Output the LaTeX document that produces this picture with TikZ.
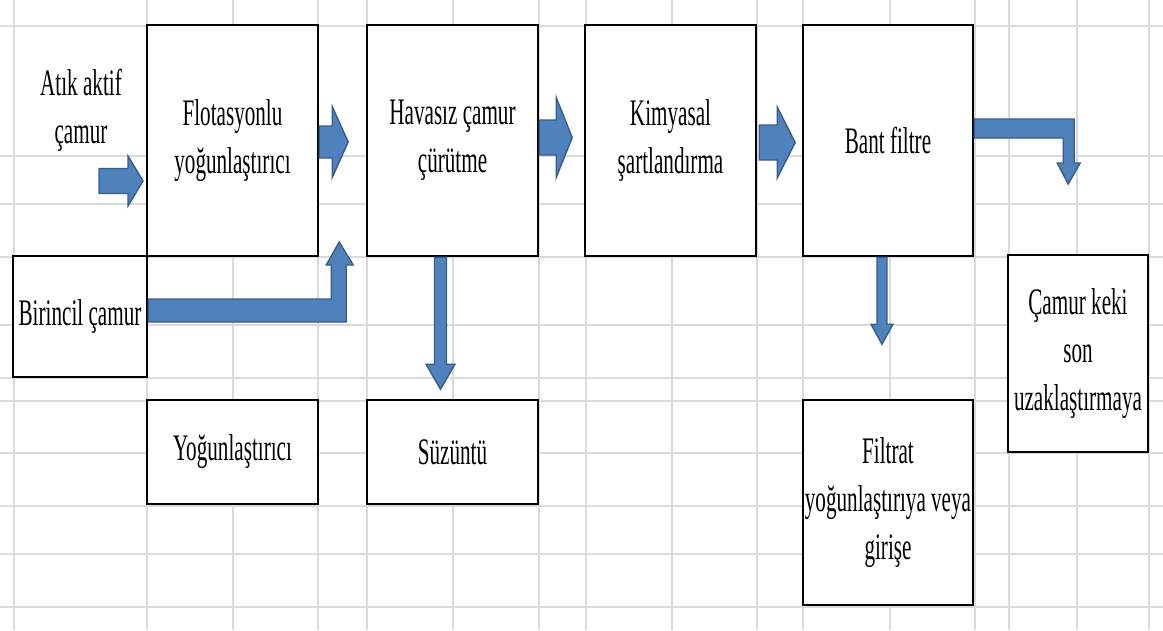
\documentclass[tikz,border=0pt]{standalone}
\usepackage{fontspec}
\setmainfont{Liberation Serif}[FakeStretch=0.565]
\usetikzlibrary{calc}

\definecolor{gridgray}{RGB}{218,218,218}
\definecolor{arrowblue}{RGB}{79,129,189}
\definecolor{arrowedge}{RGB}{56,93,138}

% block arrow pointing right: start, length, shaft width, head width, head length
\newcommand{\rblock}[5]{%
  \draw[blockarrow] (#1) ++(0,{-#3/2}) -- ++({#2-#5},0) -- ++(0,{-(#4-#3)/2})
    -- ++(#5,{#4/2}) -- ++({-#5},{#4/2}) -- ++(0,{-(#4-#3)/2})
    -- ++({-(#2-#5)},0) -- cycle;}
% block arrow pointing down: start, length, shaft width, head width, head length
\newcommand{\dblock}[5]{%
  \draw[blockarrow] (#1) ++({-#3/2},0) -- ++(0,{#2-#5}) -- ++({-(#4-#3)/2},0)
    -- ++({#4/2},#5) -- ++({#4/2},{-#5}) -- ++({-(#4-#3)/2},0)
    -- ++(0,{-(#2-#5)}) -- cycle;}

\begin{document}
\begin{tikzpicture}[
    x=0.02cm, y=-0.02cm,
    box/.style={rectangle, draw=black, line width=1.4pt, fill=white, align=center, inner sep=0pt, font=\fontsize{21.3}{27.2}\selectfont},
    freetext/.style={align=center, inner sep=0pt, font=\fontsize{21.3}{27.2}\selectfont},
    blockarrow/.style={fill=arrowblue, draw=arrowedge, line width=0.8pt, line join=miter},
    gridline/.style={gridgray, line width=0.9pt},
]

\useasboundingbox (0,0) rectangle (1163,630);

% Spreadsheet grid
\foreach \gx in {14,147,233,318,367,453,539,586,672,757,803,890,975,1009,1077,1149}
    \draw[gridline] (\gx,0) -- (\gx,630);
\foreach \gy in {26,156,204,257,325,378,401,453,506,554,607}
    \draw[gridline] (0,\gy) -- (1163,\gy);

% Main process boxes
\node[box, minimum width=3.42cm, minimum height=4.62cm] (flot) at (232.5,140.5) {Flotasyonlu\\yoğunlaştırıcı};
\node[box, minimum width=3.42cm, minimum height=4.62cm] (havasiz) at (452.5,140.5) {Havasız çamur\\çürütme};
\node[box, minimum width=3.42cm, minimum height=4.62cm] (kimyasal) at (670.5,140.5) {Kimyasal\\şartlandırma};
\node[box, minimum width=3.40cm, minimum height=4.62cm] (bant) at (888,140.5) {Bant filtre};

% Inputs
\node[freetext] (atik) at (81,110) {Atık aktif\\çamur};
\node[box, minimum width=2.68cm, minimum height=2.42cm] (birincil) at (80,316.5) {Birincil çamur};

% Lower boxes
\node[box, minimum width=3.42cm, minimum height=2.08cm] (yogun) at (232.5,452) {Yoğunlaştırıcı};
\node[box, minimum width=3.42cm, minimum height=2.08cm] (suzuntu) at (452.5,452) {Süzüntü};
\node[box, minimum width=3.40cm, minimum height=4.10cm] (filtrat) at (888,502.5) {Filtrat\\yoğunlaştırıya veya\\girişe};
\node[box, minimum width=2.80cm, minimum height=3.94cm] (kek) at (1078,353.5) {Çamur keki\\son\\uzaklaştırmaya};

% Straight block arrows
\coordinate (a1) at (99,181);
\coordinate (a2) at ($(flot.east)+(0,1.5)$);
\coordinate (a3) at ($(havasiz.east)+(0,-3)$);
\coordinate (a4) at ($(kimyasal.east)+(2,2)$);
\coordinate (a6) at ($(havasiz.south)+(-12,0)$);
\coordinate (a7) at ($(bant.south)+(-6,0)$);
\rblock{a1}{44}{25}{50}{15}
\rblock{a2}{29}{32}{71}{16}
\rblock{a3}{33}{35}{80}{16}
\rblock{a4}{36}{35}{71}{18}
\dblock{a6}{132}{12}{29}{25}
\dblock{a7}{87}{10}{22}{20}

% Bent block arrows
\draw[blockarrow] ($(birincil.east)+(0,-17.5)$) -- ++(183,0) -- ++(0,-34) -- ++(-5,0)
    -- ++(13,-23) -- ++(14,23) -- ++(-7,0) -- ++(0,57) -- ++(-198,0) -- cycle;
\draw[blockarrow] ($(bant.east)+(0,-21.5)$) -- ++(100,0) -- ++(0,44) -- ++(6,0)
    -- ++(-12,21) -- ++(-11,-21) -- ++(6,0) -- ++(0,-25) -- ++(-89,0) -- cycle;

\end{tikzpicture}
\end{document}
